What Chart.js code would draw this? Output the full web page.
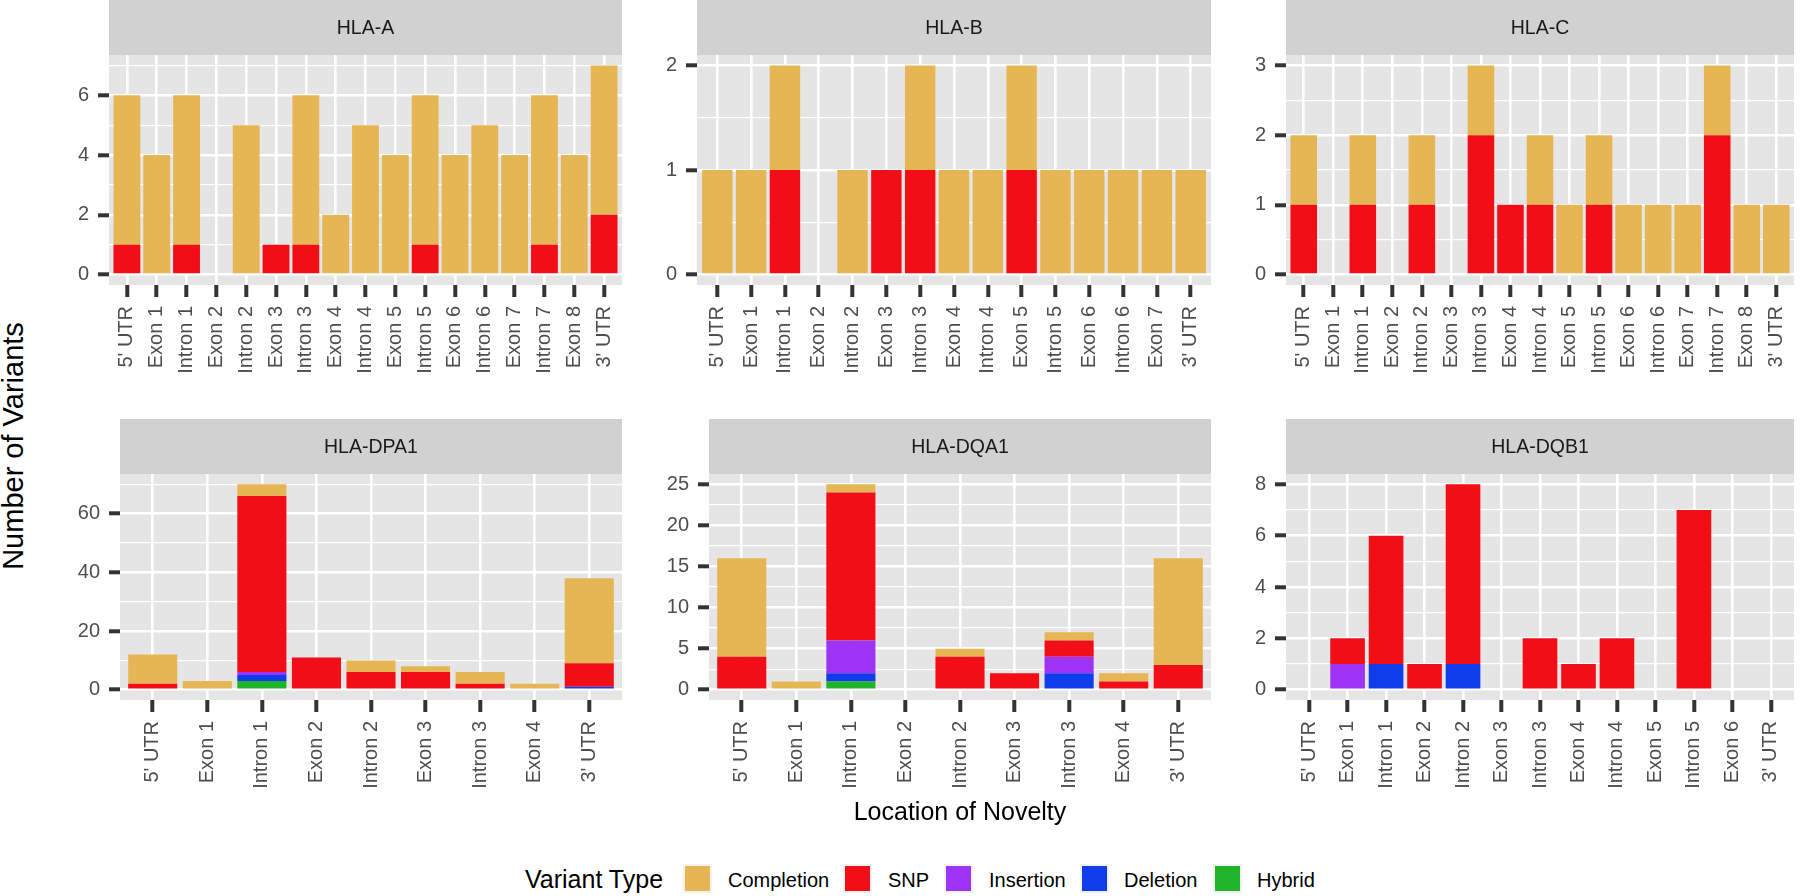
<!DOCTYPE html>
<html><head><meta charset="utf-8">
<script src="https://cdn.jsdelivr.net/npm/chart.js@4.4.1/dist/chart.umd.min.js"></script>
<style>
html,body{margin:0;padding:0;background:#fff;}
body{width:1800px;height:896px;position:relative;overflow:hidden;font-family:"Liberation Sans",Arial,Helvetica,sans-serif;}
canvas{position:absolute;}
.t{position:absolute;white-space:nowrap;line-height:1;color:#000;}
.key{position:absolute;width:29px;height:29px;background:#f2f2f2;}
.key i{position:absolute;left:2px;top:2px;width:25px;height:25px;}
</style></head><body>
<script>
// ---------------- data ----------------
const catsA = ["5' UTR","Exon 1","Intron 1","Exon 2","Intron 2","Exon 3","Intron 3","Exon 4","Intron 4","Exon 5","Intron 5","Exon 6","Intron 6","Exon 7","Intron 7","Exon 8","3' UTR"];
const catsB = ["5' UTR","Exon 1","Intron 1","Exon 2","Intron 2","Exon 3","Intron 3","Exon 4","Intron 4","Exon 5","Intron 5","Exon 6","Intron 6","Exon 7","3' UTR"];
const catsC = ["5' UTR","Exon 1","Intron 1","Exon 2","Intron 2","Exon 3","Intron 3","Exon 4","Intron 4","Exon 5","Intron 5","Exon 6","Intron 6","Exon 7","Intron 7","Exon 8","3' UTR"];
const catsDPA1 = ["5' UTR","Exon 1","Intron 1","Exon 2","Intron 2","Exon 3","Intron 3","Exon 4","3' UTR"];
const catsDQA1 = ["5' UTR","Exon 1","Intron 1","Exon 2","Intron 2","Exon 3","Intron 3","Exon 4","3' UTR"];
const catsDQB1 = ["5' UTR","Exon 1","Intron 1","Exon 2","Intron 2","Exon 3","Intron 3","Exon 4","Intron 4","Exon 5","Intron 5","Exon 6","3' UTR"];

const completionA = [5,4,5,0,5,0,5,2,5,4,5,4,5,4,5,4,5];
const snpA        = [1,0,1,0,0,1,1,0,0,0,1,0,0,0,1,0,2];
const zeroA       = [0,0,0,0,0,0,0,0,0,0,0,0,0,0,0,0,0];

const completionB = [1,1,1,0,1,0,1,1,1,1,1,1,1,1,1];
const snpB        = [0,0,1,0,0,1,1,0,0,1,0,0,0,0,0];
const zeroB       = [0,0,0,0,0,0,0,0,0,0,0,0,0,0,0];

const completionC = [1,0,1,0,1,0,1,0,1,1,1,1,1,1,1,1,1];
const snpC        = [1,0,1,0,1,0,2,1,1,0,1,0,0,0,2,0,0];
const zeroC       = [0,0,0,0,0,0,0,0,0,0,0,0,0,0,0,0,0];

const completionDPA1 = [10,3,4,0,4,2,4,2,29];
const snpDPA1        = [2,0,60,11,6,6,2,0,8];
const insertionDPA1  = [0,0,1,0,0,0,0,0,0];
const deletionDPA1   = [0,0,2,0,0,0,0,0,1];
const hybridDPA1     = [0,0,3,0,0,0,0,0,0];

const completionDQA1 = [12,1,1,0,1,0,1,1,13];
const snpDQA1        = [4,0,18,0,4,2,2,1,3];
const insertionDQA1  = [0,0,4,0,0,0,2,0,0];
const deletionDQA1   = [0,0,1,0,0,0,2,0,0];
const hybridDQA1     = [0,0,1,0,0,0,0,0,0];

const completionDQB1 = [0,0,0,0,0,0,0,0,0,0,0,0,0];
const snpDQB1        = [0,1,5,1,7,0,2,1,2,0,7,0,0];
const insertionDQB1  = [0,1,0,0,0,0,0,0,0,0,0,0,0];
const deletionDQB1   = [0,0,1,0,1,0,0,0,0,0,0,0,0];
const hybridDQB1     = [0,0,0,0,0,0,0,0,0,0,0,0,0];

const yTicksA = [0,2,4,6];
const yTicksB = [0,1,2];
const yTicksC = [0,1,2,3];
const yTicksDPA1 = [0,20,40,60];
const yTicksDQA1 = [0,5,10,15,20,25];
const yTicksDQB1 = [0,2,4,6,8];

const variantTypes = ["Completion","SNP","Insertion","Deletion","Hybrid"];
const variantColors = ["#E6B655","#F20E16","#9D33F5","#0F3DEB","#1FB42A"];

// ---------------- layout (positions only) ----------------
const FONT = '"Liberation Sans", Arial, Helvetica, sans-serif';
const AXW = 60, PADR = 24;
const panels = [
  {name:"HLA-A", cats:catsA, series:[completionA,snpA,zeroA,zeroA,zeroA], yt:yTicksA, left:109, right:622, top:0, strip:55, ph:230, ch:400},
  {name:"HLA-B", cats:catsB, series:[completionB,snpB,zeroB,zeroB,zeroB], yt:yTicksB, left:697, right:1211, top:0, strip:55, ph:230, ch:400},
  {name:"HLA-C", cats:catsC, series:[completionC,snpC,zeroC,zeroC,zeroC], yt:yTicksC, left:1286, right:1794, top:0, strip:55, ph:230, ch:400},
  {name:"HLA-DPA1", cats:catsDPA1, series:[completionDPA1,snpDPA1,insertionDPA1,deletionDPA1,hybridDPA1], yt:yTicksDPA1, left:120, right:622, top:419, strip:55, ph:226, ch:380},
  {name:"HLA-DQA1", cats:catsDQA1, series:[completionDQA1,snpDQA1,insertionDQA1,deletionDQA1,hybridDQA1], yt:yTicksDQA1, left:709, right:1211, top:419, strip:55, ph:226, ch:380},
  {name:"HLA-DQB1", cats:catsDQB1, series:[completionDQB1,snpDQB1,insertionDQB1,deletionDQB1,hybridDQB1], yt:yTicksDQB1, left:1286, right:1794, top:419, strip:55, ph:226, ch:380}
];

const stripPlugin = {
  id: 'strip',
  beforeDraw(chart, args, opts) {
    const {ctx, chartArea: a} = chart;
    ctx.save();
    ctx.fillStyle = '#d1d1d1';
    ctx.fillRect(a.left, a.top - opts.h, a.right - a.left, opts.h);
    ctx.fillStyle = '#e5e5e5';
    ctx.fillRect(a.left, a.top, a.right - a.left, a.bottom - a.top);
    ctx.fillStyle = '#1a1a1a';
    ctx.font = '19.5px ' + FONT;
    ctx.textAlign = 'center';
    ctx.textBaseline = 'middle';
    ctx.fillText(opts.title, (a.left + a.right) / 2, a.top - opts.h / 2 + 1);
    ctx.restore();
  }
};

panels.forEach(p => {
  const n = p.cats.length;
  const cv = document.createElement('canvas');
  const w = AXW + (p.right - p.left) + PADR;
  cv.width = w; cv.height = p.ch;
  cv.style.left = (p.left - AXW) + 'px';
  cv.style.top = p.top + 'px';
  cv.style.width = w + 'px'; cv.style.height = p.ch + 'px';
  document.body.appendChild(cv);

  let maxTotal = 0;
  for (let i = 0; i < n; i++) {
    let s = 0; p.series.forEach(arr => s += arr[i]);
    maxTotal = Math.max(maxTotal, s);
  }
  const yMin = -0.05 * maxTotal, yMax = 1.05 * maxTotal;
  const major = p.yt[1] - p.yt[0];
  const isMajor = v => Math.abs(v / major - Math.round(v / major)) < 1e-6;
  const yVals = [];
  p.yt.forEach(v => {
    yVals.push(v);
    const mid = v + major / 2;
    if (mid <= yMax + 1e-9) yVals.push(mid);
  });

  // stack bottom -> top: Hybrid, Deletion, Insertion, SNP, Completion
  const order = [4,3,2,1,0];
  const datasets = order.map(k => ({
    label: variantTypes[k],
    data: p.series[k].map((v, i) => ({x: i, y: v})),
    backgroundColor: variantColors[k],
    borderWidth: 0,
    barPercentage: 0.9,
    categoryPercentage: 1.0
  }));

  new Chart(cv, {
    type: 'bar',
    data: {datasets},
    plugins: [stripPlugin],
    options: {
      responsive: false, animation: false, devicePixelRatio: 1,
      layout: {padding: {top: p.strip, left: 0, right: PADR, bottom: 0}},
      plugins: {legend: {display: false}, tooltip: {enabled: false}, strip: {h: p.strip, title: p.name}},
      scales: {
        x: {
          type: 'linear', min: -0.6, max: n - 0.4, stacked: true, offset: false,
          afterBuildTicks(s) { s.ticks = p.cats.map((c, i) => ({value: i})); },
          afterFit(s) { s.height = p.ch - p.strip - p.ph; },
          border: {display: false},
          grid: {offset: false, color: '#ffffff', lineWidth: 2.6, drawTicks: true, tickLength: 12, tickWidth: 4, tickColor: '#333333'},
          ticks: {autoSkip: false, minRotation: 90, maxRotation: 90, padding: 9,
                  color: '#4d4d4d', font: {family: FONT, size: 20},
                  callback: v => (Number.isInteger(v) && p.cats[v] !== undefined) ? p.cats[v] : ''}
        },
        y: {
          type: 'linear', min: yMin, max: yMax, stacked: true,
          afterBuildTicks(s) { s.ticks = yVals.map(v => ({value: v})); },
          afterFit(s) { s.width = AXW; },
          border: {display: false},
          grid: {offset: false, color: '#ffffff',
                 lineWidth: c => (c.tick && isMajor(c.tick.value)) ? 2.6 : 1.3,
                 drawTicks: true, tickLength: 11, tickWidth: 4,
                 tickColor: c => (c.tick && isMajor(c.tick.value)) ? '#333333' : 'rgba(0,0,0,0)'},
          ticks: {autoSkip: false, padding: 9,
                  color: '#4d4d4d', font: {family: FONT, size: 20},
                  callback: v => isMajor(v) ? String(Math.round(v)) : ''}
        }
      }
    }
  });
});

// ---------------- titles & legend (HTML text) ----------------
function addText(txt, css) {
  const d = document.createElement('div');
  d.className = 't'; d.textContent = txt;
  Object.assign(d.style, css);
  document.body.appendChild(d);
  return d;
}
addText('Number of Variants', {left: '13px', top: '446px', fontSize: '29px', transform: 'translate(-50%,-50%) rotate(-90deg)'});
addText('Location of Novelty', {left: '960px', top: '799px', fontSize: '25px', transform: 'translateX(-50%)'});
addText('Variant Type', {left: '525px', top: '867px', fontSize: '25px'});
const keyLefts = [683, 843, 944, 1080, 1213];
const labLefts = [728, 888, 989, 1124, 1257];
variantTypes.forEach((t, k) => {
  const kd = document.createElement('div');
  kd.className = 'key';
  kd.style.left = keyLefts[k] + 'px'; kd.style.top = '864px';
  const inner = document.createElement('i');
  inner.style.background = variantColors[k];
  kd.appendChild(inner);
  document.body.appendChild(kd);
  addText(t, {left: labLefts[k] + 'px', top: '870px', fontSize: '20px'});
});
</script>
</body></html>
